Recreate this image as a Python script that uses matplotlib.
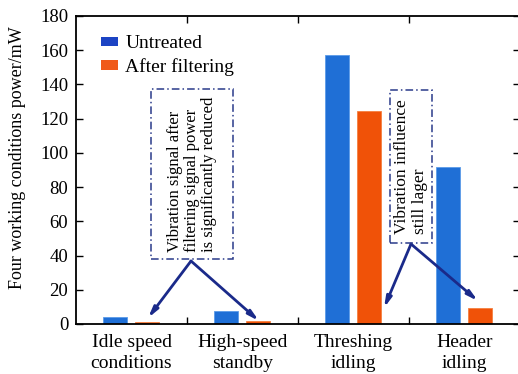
import matplotlib
matplotlib.use("Agg")
import matplotlib.pyplot as plt
from matplotlib.patches import Patch, Rectangle
import numpy as np

categories = ["Idle speed\nconditions", "High-speed\nstandby", "Threshing\nidling", "Header\nidling"]
untreated = [3.9, 7.6, 157.2, 92.0]
after_filtering = [1.4, 1.8, 124.7, 9.5]
series_labels = ["Untreated", "After filtering"]
yticks = [0, 20, 40, 60, 80, 100, 120, 140, 160, 180]
note1 = "Vibration signal after\nfiltering signal power\nis significantly reduced"
note2 = "Vibration influence\nstill lager"

plt.rcParams['font.family'] = ['Liberation Serif', 'DejaVu Serif']

fig = plt.figure(figsize=(5.18, 3.74), dpi=100)
ax = fig.add_axes([76/518, 1-324/374, 444/518, 308/374])

blue = "#1f6fd6"
orange = "#f05208"
x = np.arange(1, len(categories) + 1)
w = 0.216
ax.bar(x - 0.147, untreated, w, color=blue, edgecolor="#5b9be8", linewidth=0.6, zorder=2)
ax.bar(x + 0.143, after_filtering, w, color=orange, edgecolor="#f58040", linewidth=0.6, zorder=2)

ax.set_xlim(0.5, 4.5)
ax.set_ylim(0, 180)
ax.set_yticks(yticks)
ax.set_xticks(x)
ax.set_xticklabels(categories, fontsize=14, linespacing=1.3)
ax.tick_params(axis='x', which='major', length=0, pad=7)
ax.set_xticks([1.5, 2.5, 3.5], minor=True)
ax.tick_params(axis='x', which='minor', direction='in', length=5, top=True, bottom=True, width=1)
ax.tick_params(axis='y', direction='in', length=5, left=True, right=True, labelsize=13.5, width=1, pad=5.5)
for s in ax.spines.values():
    s.set_linewidth(1.3)
ax.set_ylabel("Four working conditions power/mW", fontsize=13)
ax.yaxis.set_label_coords(-0.112, 0.54)

# legend
handles = [Patch(facecolor="#1c44c4"), Patch(facecolor="#f05a1a")]
ax.legend(handles, series_labels, loc="upper left", bbox_to_anchor=(0.03, 0.975),
          frameon=False, fontsize=14, handlelength=0.9, handleheight=0.4,
          handletextpad=0.35, labelspacing=0.3, borderaxespad=0.2)

navy = "#1a2a8a"
boxc = "#2a3a8a"

def data_from_px(px, py):
    inv = ax.transData.inverted()
    return inv.transform((px, 374 - py))

fig.canvas.draw()
b1 = (151, 89, 233, 259)
b2 = (390, 90, 432, 243)
for (l, t, r, b), txt, fs in [(b1, note1, 12), (b2, note2, 12.5)]:
    rect = Rectangle((l/518, 1 - b/374), (r - l)/518, (b - t)/374, transform=fig.transFigure,
                     fill=False, edgecolor=boxc, linestyle=(0, (5, 2, 1, 2)), linewidth=1.1, zorder=3)
    fig.add_artist(rect)
    fig.text((l + r)/2/518, 1 - (t + b)/2/374, txt, rotation=90, ha="center", va="center",
             fontsize=fs, linespacing=1.12, color="black", multialignment="left")

def arrow(start, end):
    ax.annotate("", xy=data_from_px(*end), xytext=data_from_px(*start),
                xycoords="data", textcoords="data",
                arrowprops=dict(arrowstyle="-|>,head_length=0.6,head_width=0.15", color=navy,
                                lw=2.0, shrinkA=0, shrinkB=0), zorder=4)

arrow((191, 261), (148, 318))
arrow((191, 261), (259, 321))
arrow((411, 244), (384, 308))
arrow((411, 244), (478, 301))

fig.savefig("out.png", dpi=100)
